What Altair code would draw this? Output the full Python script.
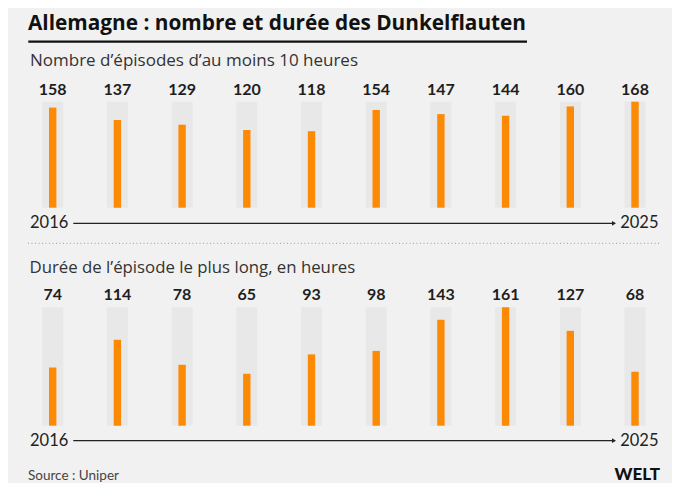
import altair as alt
import pandas as pd

years = [2016, 2017, 2018, 2019, 2020, 2021, 2022, 2023, 2024, 2025]
episodes = [158, 137, 129, 120, 118, 154, 147, 144, 160, 168]
longest = [74, 114, 78, 65, 93, 98, 143, 161, 127, 68]

title = "Allemagne : nombre et durée des Dunkelflauten"
sub1 = "Nombre d’épisodes d’au moins 10 heures"
sub2 = "Durée de l’épisode le plus long, en heures"
source = "Source : Uniper"
logo = "WELT"

df = pd.DataFrame({"year": years, "episodes": episodes, "longest": longest})

BG = "#f1f1f1"
GREY = "#e8e8e8"
ORANGE = "#fd8a05"
FONT = "Lato"
FONT2 = "Open Sans"

xs = alt.Scale(domain=[2016, 2025], range=[39.7, 632])
X = alt.X("year:Q", scale=xs, axis=None)

top_min = -11.7
bot_min = -10
top_scale = alt.Scale(domain=[top_min, 168], range=[199.7, 93.7])
bot_scale = alt.Scale(domain=[bot_min, 161], range=[417.7, 299.3])

base = alt.Chart(df)


def panel(field, scale, vmin):
    b = base.transform_joinaggregate(mx=f"max({field})")
    grey = b.mark_bar(size=21, color=GREY).encode(
        x=X, y=alt.Y("mx:Q", scale=scale, axis=None), y2=alt.datum(vmin)
    )
    bar = b.mark_bar(size=7.4, color=ORANGE).encode(
        x=X, y=alt.Y(f"{field}:Q", scale=scale, axis=None), y2=alt.datum(vmin)
    )
    lab = b.mark_text(
        dy=-12, baseline="middle", align="center", font=FONT,
        fontSize=16, fontWeight="bold", color="#1e1e1e"
    ).encode(x=X, y=alt.Y("mx:Q", scale=scale, axis=None), text=f"{field}:Q")
    return [grey, bar, lab]


def txt(s, x, y, size, weight="normal", color="#222222", align="left",
        baseline="alphabetic", font=FONT):
    return alt.Chart(pd.DataFrame({"t": [s]})).mark_text(
        font=font, fontSize=size, fontWeight=weight, color=color,
        align=align, baseline=baseline
    ).encode(x=alt.value(x), y=alt.value(y), text="t:N")


def arrow(y):
    line = alt.Chart(pd.DataFrame({"a": [0]})).mark_rule(
        color="#222222", strokeWidth=1.2
    ).encode(x=alt.value(65.3), x2=alt.value(605), y=alt.value(y))
    head = alt.Chart(pd.DataFrame({"a": [0]})).mark_point(
        shape="triangle-right", filled=True, size=22, color="#222222", opacity=1
    ).encode(x=alt.value(606), y=alt.value(y))
    return [line, head]


underline = alt.Chart(pd.DataFrame({"a": [0]})).mark_rule(
    color="#111111", strokeWidth=2.2
).encode(x=alt.value(20.3), x2=alt.value(519), y=alt.value(33.7))

dots = alt.Chart(pd.DataFrame({"a": [0]})).mark_rule(
    color="#9a9a9a", strokeWidth=1, strokeDash=[1, 2.5]
).encode(x=alt.value(20), x2=alt.value(652), y=alt.value(235.3))

layers = (
    [txt(title, 20, 21.5, 20.8, weight="bold", color="#111111", font=FONT2),
     underline,
     txt(sub1, 22, 57.7, 17, color="#333333", font=FONT2),
     txt(sub2, 21.5, 265, 16.8, color="#333333", font=FONT2), dots]
    + panel("episodes", top_scale, top_min)
    + panel("longest", bot_scale, bot_min)
    + arrow(215.3) + arrow(432.7)
    + [txt("2016", 22, 215, 16.5, baseline="middle"),
       txt("2025", 650.5, 215, 16.5, align="right", baseline="middle"),
       txt("2016", 22, 433, 16.5, baseline="middle"),
       txt("2025", 650.5, 433, 16.5, align="right", baseline="middle"),
       txt(source, 20, 472, 13.5, color="#444444"),
       txt(logo, 652, 472, 17, weight=900, color="#111111", align="right")]
)

chart = alt.layer(*layers).resolve_scale(y="independent").properties(
    width=664, height=475, background=BG,
    autosize=alt.AutoSizeParams(type="none"), padding=0
).configure_view(stroke=None)

chart.save("out.html", embed_options={"renderer": "svg", "actions": False})
